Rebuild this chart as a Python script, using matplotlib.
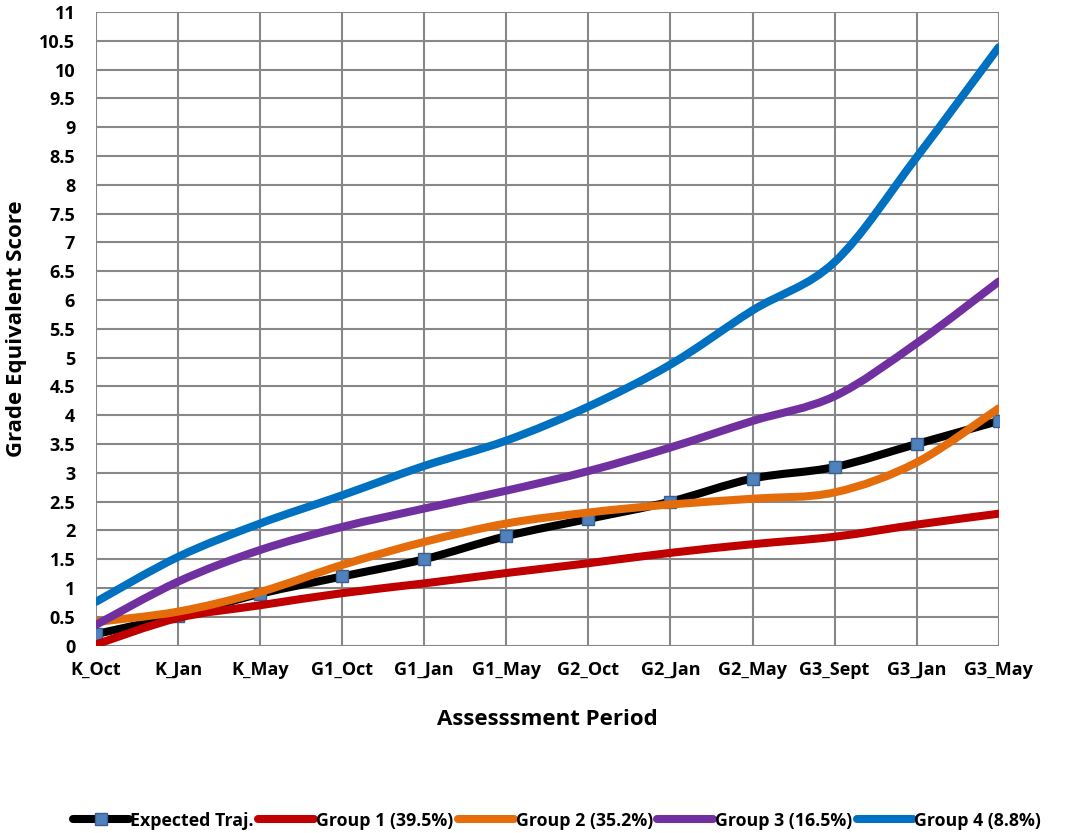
import matplotlib.pyplot as plt
from matplotlib.path import Path
from matplotlib.patches import PathPatch
from matplotlib.ticker import MultipleLocator, FuncFormatter
import numpy as np

plt.rcParams['font.family'] = ['Open Sans', 'DejaVu Sans']
plt.rcParams['font.weight'] = 'bold'

periods = ["K_Oct", "K_Jan", "K_May", "G1_Oct", "G1_Jan", "G1_May",
           "G2_Oct", "G2_Jan", "G2_May", "G3_Sept", "G3_Jan", "G3_May"]

expected = [0.2, 0.52, 0.9, 1.2, 1.5, 1.9, 2.2, 2.5, 2.9, 3.1, 3.5, 3.9]
group1 = [0.02, 0.48, 0.70, 0.91, 1.08, 1.26, 1.43, 1.61, 1.76, 1.89, 2.10, 2.29]
group2 = [0.41, 0.59, 0.93, 1.40, 1.80, 2.12, 2.31, 2.45, 2.55, 2.66, 3.18, 4.12]
group3 = [0.36, 1.11, 1.66, 2.06, 2.38, 2.69, 3.03, 3.44, 3.90, 4.33, 5.25, 6.32]
group4 = [0.76, 1.54, 2.12, 2.61, 3.12, 3.56, 4.15, 4.88, 5.82, 6.66, 8.48, 10.39]

labels = ["Expected Traj.", "Group 1 (39.5%)", "Group 2 (35.2%)",
          "Group 3 (16.5%)", "Group 4 (8.8%)"]
colors = ["black", "#C00000", "#E46C0A", "#7030A0", "#0070C0"]


def smooth_path(xs, ys):
    # Excel-style smoothed line as cubic bezier segments
    pts = np.column_stack([xs, ys]).astype(float)
    n = len(pts)
    verts = [pts[0]]
    codes = [Path.MOVETO]
    for i in range(n - 1):
        p0 = pts[i - 1] if i > 0 else pts[i]
        p1 = pts[i]
        p2 = pts[i + 1]
        p3 = pts[i + 2] if i + 2 < n else pts[i + 1]
        c1 = p1 + (p2 - p0) / 6.0
        c2 = p2 - (p3 - p1) / 6.0
        verts += [c1, c2, p2]
        codes += [Path.CURVE4] * 3
    return Path(verts, codes)


fig = plt.figure(figsize=(10.67, 8.33), dpi=100)
ax = fig.add_axes([0.09, 0.225, 0.846, 0.7605])

x = np.arange(len(periods))
series = [expected, group1, group2, group3, group4]
for k, (ys, c, lab) in enumerate(zip(series, colors, labels)):
    patch = PathPatch(smooth_path(x, ys), facecolor='none', edgecolor=c,
                      lw=5.8, capstyle='round', joinstyle='round', zorder=3 + k)
    ax.add_patch(patch)
    if k == 0:
        ax.plot(x, ys, ls='none', marker='s', ms=8.5, mfc='#4F81BD',
                mec='#3A5F8A', mew=1.0, zorder=3 + k)
        ax.plot([], [], color=c, lw=5.8, solid_capstyle='round', marker='s',
                ms=8.5, mfc='#4F81BD', mec='#3A5F8A', label=lab)
    else:
        ax.plot([], [], color=c, lw=5.8, solid_capstyle='round', label=lab)

ax.set_xlim(0, len(periods) - 1)
ax.set_ylim(0, 11)
ax.set_xticks(x)
ax.set_xticklabels(periods, fontsize=13, fontweight='bold')
ax.yaxis.set_major_locator(MultipleLocator(0.5))
ax.yaxis.set_major_formatter(FuncFormatter(lambda v, p: '%g' % v))
ax.tick_params(axis='both', length=0, labelsize=13)
ax.tick_params(axis='x', pad=11)
ax.tick_params(axis='y', pad=15)

ax.grid(True, color='#878787', lw=1.5)
ax.set_axisbelow(True)
for s in ax.spines.values():
    s.set_visible(False)

ax.set_xlabel("Assesssment Period", fontsize=16, fontweight='bold', labelpad=22)
ax.set_ylabel("Grade Equivalent Score", fontsize=16, fontweight='bold')
ax.yaxis.set_label_coords(-0.0764, 0.5)

fig.legend(loc='center', bbox_to_anchor=(0.522, 0.0148), ncol=5, frameon=False,
           handlelength=3.15, handletextpad=0.1, columnspacing=0.25,
           prop={'weight': 'bold', 'size': 12.8})

fig.savefig("out.png", dpi=100)
